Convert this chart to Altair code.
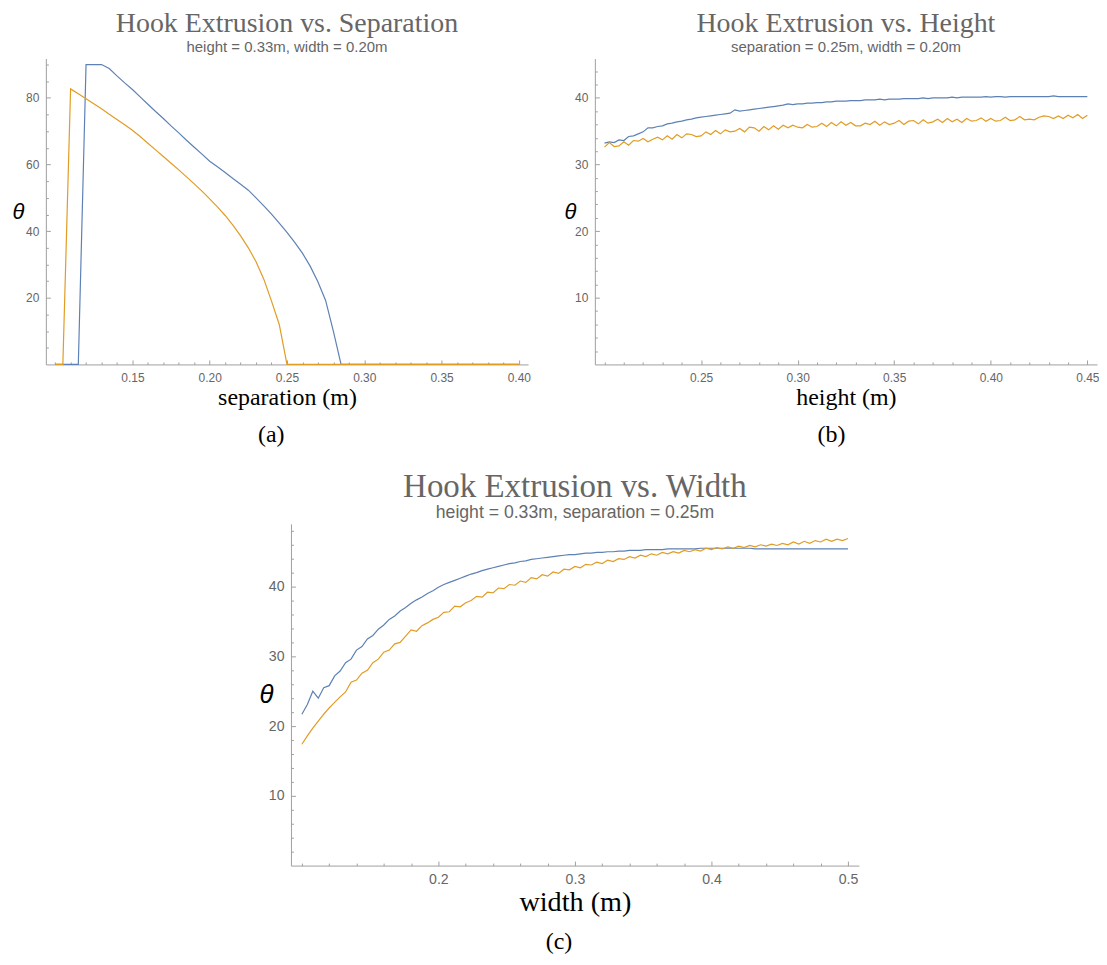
import json
import altair as alt
import pandas as pd

BLUE = "#5E81B5"
ORANGE = "#E19C24"
AXIS_GRAY = "#a0a0a0"
TEXT_GRAY = "#666666"
SERIF = "Liberation Serif"
SANS = "Liberation Sans"

# ---------------- (a) Hook Extrusion vs. Separation ----------------
sep_x = [0.100, 0.105, 0.110, 0.115, 0.120, 0.125, 0.130, 0.135, 0.140, 0.145,
         0.150, 0.155, 0.160, 0.165, 0.170, 0.175, 0.180, 0.185, 0.190, 0.195,
         0.200, 0.205, 0.210, 0.215, 0.220, 0.225, 0.230, 0.235, 0.240, 0.245,
         0.250, 0.255, 0.260, 0.265, 0.270, 0.275, 0.280, 0.285, 0.290, 0.295,
         0.300, 0.305, 0.310, 0.315, 0.320, 0.325, 0.330, 0.335, 0.340, 0.345,
         0.350, 0.355, 0.360, 0.365, 0.370, 0.375, 0.380, 0.385, 0.390, 0.395,
         0.400]
sep_blue = [0, 0, 0, 0, 90.0, 90.0, 90.0, 88.8, 86.6, 84.5,
            82.5, 80.3, 78.1, 75.9, 73.8, 71.6, 69.5, 67.3, 65.2, 63.1,
            61.0, 59.3, 57.6, 55.8, 54.1, 52.3, 50.0, 47.6, 45.1, 42.4,
            39.6, 36.6, 33.4, 29.5, 24.8, 19.2, 10.0, 0, 0, 0,
            0, 0, 0, 0, 0, 0, 0, 0, 0, 0,
            0, 0, 0, 0, 0, 0, 0, 0, 0, 0,
            0]
sep_orange = [0, 0, 82.7, 81.2, 79.7, 78.2, 76.7, 75.1, 73.5, 71.9,
              70.3, 68.4, 66.4, 64.4, 62.4, 60.4, 58.4, 56.3, 54.2, 52.0,
              49.7, 47.3, 44.7, 41.8, 38.6, 35.0, 30.8, 25.6, 19.0, 12.0,
              0, 0, 0, 0, 0, 0, 0, 0, 0, 0,
              0, 0, 0, 0, 0, 0, 0, 0, 0, 0,
              0, 0, 0, 0, 0, 0, 0, 0, 0, 0,
              0]

# ---------------- (b) Hook Extrusion vs. Height ----------------
height_x = [0.2000, 0.2025, 0.2050, 0.2075, 0.2100, 0.2125, 0.2150, 0.2175, 0.2200, 0.2225,
            0.2250, 0.2275, 0.2300, 0.2325, 0.2350, 0.2375, 0.2400, 0.2425, 0.2450, 0.2475,
            0.2500, 0.2525, 0.2550, 0.2575, 0.2600, 0.2625, 0.2650, 0.2675, 0.2700, 0.2725,
            0.2750, 0.2775, 0.2800, 0.2825, 0.2850, 0.2875, 0.2900, 0.2925, 0.2950, 0.2975,
            0.3000, 0.3025, 0.3050, 0.3075, 0.3100, 0.3125, 0.3150, 0.3175, 0.3200, 0.3225,
            0.3250, 0.3275, 0.3300, 0.3325, 0.3350, 0.3375, 0.3400, 0.3425, 0.3450, 0.3475,
            0.3500, 0.3525, 0.3550, 0.3575, 0.3600, 0.3625, 0.3650, 0.3675, 0.3700, 0.3725,
            0.3750, 0.3775, 0.3800, 0.3825, 0.3850, 0.3875, 0.3900, 0.3925, 0.3950, 0.3975,
            0.4000, 0.4025, 0.4050, 0.4075, 0.4100, 0.4125, 0.4150, 0.4175, 0.4200, 0.4225,
            0.4250, 0.4275, 0.4300, 0.4325, 0.4350, 0.4375, 0.4400, 0.4425, 0.4450, 0.4475,
            0.4500]
height_blue = [33.2, 33.4, 33.3, 33.7, 33.6, 34.2, 34.3, 34.6, 34.9, 35.5,
               35.5, 35.7, 35.8, 36.1, 36.2, 36.4, 36.5, 36.7, 36.8, 37.0,
               37.1, 37.2, 37.3, 37.4, 37.5, 37.6, 37.7, 38.2, 38.0, 38.1,
               38.2, 38.3, 38.4, 38.5, 38.6, 38.7, 38.8, 38.9, 39.1, 39.0,
               39.1, 39.1, 39.2, 39.2, 39.3, 39.3, 39.4, 39.4, 39.5, 39.5,
               39.5, 39.6, 39.6, 39.6, 39.7, 39.7, 39.7, 39.8, 39.7, 39.8,
               39.8, 39.8, 39.9, 39.9, 39.9, 39.9, 40.0, 39.9, 40.0, 40.0,
               40.0, 40.0, 40.1, 40.0, 40.1, 40.1, 40.1, 40.1, 40.1, 40.2,
               40.1, 40.2, 40.2, 40.1, 40.2, 40.2, 40.2, 40.2, 40.2, 40.2,
               40.2, 40.2, 40.2, 40.3, 40.2, 40.2, 40.2, 40.2, 40.2, 40.2,
               40.2]
height_orange = [32.6, 33.3, 32.7, 32.8, 33.4, 32.9, 33.6, 33.5, 33.9, 33.4,
                 33.8, 34.1, 33.7, 34.3, 33.8, 34.5, 34.0, 34.6, 34.5, 34.2,
                 34.3, 34.9, 34.5, 35.1, 34.6, 35.2, 34.9, 35.0, 35.4, 34.9,
                 35.6, 35.5, 35.0, 35.7, 35.2, 35.8, 35.3, 35.9, 35.5, 35.9,
                 35.6, 35.5, 36.0, 35.6, 35.7, 36.2, 35.7, 36.3, 35.8, 36.4,
                 35.9, 36.3, 35.8, 35.8, 36.2, 36.0, 36.5, 35.9, 36.4, 36.0,
                 36.2, 36.6, 36.0, 36.5, 36.6, 36.1, 36.7, 36.2, 36.4, 36.8,
                 36.3, 36.9, 36.4, 36.8, 36.3, 36.9, 36.5, 36.6, 37.0, 36.5,
                 36.9, 36.5, 36.6, 37.1, 36.6, 36.7, 37.2, 36.7, 36.8, 36.7,
                 37.1, 37.3, 37.2, 36.9, 37.3, 36.9, 37.4, 37.0, 37.5, 36.9,
                 37.4]

# ---------------- (c) Hook Extrusion vs. Width ----------------
width_x = [0.100, 0.104, 0.108, 0.112, 0.116, 0.120, 0.124, 0.128, 0.132, 0.136,
           0.140, 0.144, 0.148, 0.152, 0.156, 0.160, 0.164, 0.168, 0.172, 0.176,
           0.180, 0.184, 0.188, 0.192, 0.196, 0.200, 0.204, 0.208, 0.212, 0.216,
           0.220, 0.224, 0.228, 0.232, 0.236, 0.240, 0.244, 0.248, 0.252, 0.256,
           0.260, 0.264, 0.268, 0.272, 0.276, 0.280, 0.284, 0.288, 0.292, 0.296,
           0.300, 0.304, 0.308, 0.312, 0.316, 0.320, 0.324, 0.328, 0.332, 0.336,
           0.340, 0.344, 0.348, 0.352, 0.356, 0.360, 0.364, 0.368, 0.372, 0.376,
           0.380, 0.384, 0.388, 0.392, 0.396, 0.400, 0.404, 0.408, 0.412, 0.416,
           0.420, 0.424, 0.428, 0.432, 0.436, 0.440, 0.444, 0.448, 0.452, 0.456,
           0.460, 0.464, 0.468, 0.472, 0.476, 0.480, 0.484, 0.488, 0.492, 0.496,
           0.500]
width_blue = [21.7, 23.1, 25.0, 24.0, 25.5, 25.8, 27.2, 27.9, 29.1, 29.6,
              30.9, 31.4, 32.5, 33.0, 33.9, 34.5, 35.3, 35.8, 36.5, 37.0,
              37.6, 38.1, 38.5, 39.0, 39.4, 39.9, 40.3, 40.6, 40.9, 41.2,
              41.5, 41.8, 42.0, 42.3, 42.5, 42.7, 42.9, 43.1, 43.3, 43.4,
              43.6, 43.7, 43.9, 44.0, 44.1, 44.2, 44.3, 44.4, 44.5, 44.6,
              44.6, 44.7, 44.8, 44.8, 44.9, 44.9, 45.0, 45.0, 45.1, 45.1,
              45.2, 45.2, 45.2, 45.3, 45.3, 45.3, 45.3, 45.4, 45.4, 45.4,
              45.4, 45.4, 45.4, 45.5, 45.5, 45.5, 45.5, 45.5, 45.5, 45.5,
              45.5, 45.5, 45.5, 45.4, 45.4, 45.4, 45.4, 45.4, 45.4, 45.4,
              45.4, 45.4, 45.4, 45.4, 45.4, 45.4, 45.4, 45.4, 45.4, 45.4,
              45.4]
width_orange = [17.4, 18.6, 19.7, 20.7, 21.7, 22.6, 23.4, 24.2, 24.9, 26.3,
                26.6, 27.6, 28.0, 29.1, 29.6, 30.6, 30.9, 31.8, 32.0, 32.9,
                33.8, 33.6, 34.4, 34.8, 35.3, 35.6, 36.3, 36.4, 37.2, 37.1,
                37.7, 38.0, 38.6, 38.5, 39.2, 39.1, 39.8, 39.7, 40.3, 40.2,
                40.8, 40.6, 41.3, 41.1, 41.7, 41.5, 42.1, 41.9, 42.5, 42.4,
                42.9, 42.7, 43.2, 43.1, 43.5, 43.3, 43.8, 43.6, 44.0, 43.9,
                44.3, 44.1, 44.5, 44.3, 44.7, 44.5, 44.9, 44.7, 45.0, 44.8,
                45.2, 45.0, 45.3, 45.1, 45.5, 45.3, 45.6, 45.4, 45.7, 45.5,
                45.8, 45.6, 45.9, 45.7, 46.0, 45.8, 46.1, 45.9, 46.2, 46.0,
                46.4, 46.1, 46.5, 46.2, 46.6, 46.4, 46.8, 46.5, 46.8, 46.6,
                46.9]

# ---------------- tick values ----------------
sep_xmajor = [0.15, 0.2, 0.25, 0.3, 0.35, 0.4]
sep_xticks = [i / 100 for i in range(10, 41)]
sep_ymajor = [20, 40, 60, 80]
sep_yticks = list(range(5, 91, 5))

height_xmajor = [0.25, 0.3, 0.35, 0.4, 0.45]
height_xticks = [i / 100 for i in range(20, 46)]
height_ymajor = [10, 20, 30, 40]
height_yticks = list(range(2, 46, 2))

width_xmajor = [0.2, 0.3, 0.4, 0.5]
width_xticks = [i / 100 for i in range(10, 51, 2)]
width_ymajor = [10, 20, 30, 40]
width_yticks = list(range(2, 49, 2))


def to_df(xs, blue, orange):
    assert len(xs) == len(blue) == len(orange)
    return pd.DataFrame({
        "x": list(xs) + list(xs),
        "theta": list(blue) + list(orange),
        "series": ["blue"] * len(xs) + ["orange"] * len(xs),
    })


def tick_size(major, big, small):
    return {"condition": {"test": "indexof(%s, datum.value) >= 0" % json.dumps(major),
                          "value": big}, "value": small}


def panel(df, xdom, ydom, w, h, xmaj, xall, ymaj, yall, title, subtitle, xtitle,
          letter, s, theta_x, xtitle_y, label_pad, sub_pad, title_offset):
    xs = alt.Scale(domain=xdom, nice=False, zero=False)
    ys = alt.Scale(domain=ydom, nice=False, zero=False)
    color = alt.Color("series:N", scale=alt.Scale(domain=["blue", "orange"], range=[BLUE, ORANGE]),
                      legend=None)
    lines = alt.Chart(df).mark_line(strokeWidth=1.2).encode(
        x=alt.X("x:Q", scale=xs, axis=alt.Axis(
            title=xtitle, values=xmaj, ticks=False, tickSize=0, grid=False,
            domainColor=AXIS_GRAY, domainWidth=1, labelFlush=False,
            labelFont=SANS, labelFontSize=12 * s, labelColor=TEXT_GRAY, labelPadding=label_pad,
            titleFont=SERIF, titleFontSize=24 * s, titleFontWeight="normal", titleColor="black",
            titleY=xtitle_y, titleBaseline="alphabetic")),
        y=alt.Y("theta:Q", scale=ys, axis=alt.Axis(
            title="θ", values=ymaj, ticks=False, tickSize=0, grid=False,
            domainColor=AXIS_GRAY, domainWidth=1,
            labelFont=SANS, labelFontSize=12 * s, labelColor=TEXT_GRAY, labelPadding=7,
            titleFont=SANS, titleFontSize=22 * s, titleFontStyle="italic", titleFontWeight="normal",
            titleColor="black", titleAngle=0, titleX=theta_x, titleY=h / 2,
            titleAlign="center", titleBaseline="middle")),
        color=color,
    )
    ticks = alt.Chart(df).mark_line(opacity=0).encode(
        x=alt.X("x:Q", scale=xs, axis=alt.Axis(
            orient="top", offset=-h, values=xall, labels=False, domain=False, grid=False,
            title="", tickColor=AXIS_GRAY, tickSize=tick_size(xmaj, 4.5, 2.5))),
        y=alt.Y("theta:Q", scale=ys, axis=alt.Axis(
            orient="right", offset=-w, values=yall, labels=False, domain=False, grid=False,
            title="", tickColor=AXIS_GRAY, tickSize=tick_size(ymaj, 4.5, 2.5))),
        detail="series:N",
    )
    layered = alt.layer(lines, ticks).resolve_axis(x="independent", y="independent").properties(
        width=w, height=h,
        title=alt.Title(title, subtitle=subtitle, font=SERIF, fontSize=28 * s, fontWeight="normal",
                        color=TEXT_GRAY, subtitleFont=SANS, subtitleFontSize=15 * s,
                        subtitleColor=TEXT_GRAY, subtitlePadding=sub_pad, anchor="middle",
                        frame="group", offset=title_offset),
    )
    return alt.vconcat(layered, title=alt.Title(
        letter, orient="bottom", font=SERIF, fontSize=24, fontWeight="normal",
        color="black", anchor="middle", offset=14))


pa = panel(to_df(sep_x, sep_blue, sep_orange), [0.094, 0.406], [0, 91.8], 484, 307,
           sep_xmajor, sep_xticks, sep_ymajor, sep_yticks,
           "Hook Extrusion vs. Separation", "height = 0.33m, width = 0.20m",
           "separation (m)", "(a)", 1.0, -28, 40, 8, 2, 4)
pb = panel(to_df(height_x, height_blue, height_orange), [0.195, 0.455], [0, 45.9], 504, 307,
           height_xmajor, height_xticks, height_ymajor, height_yticks,
           "Hook Extrusion vs. Height", "separation = 0.25m, width = 0.20m",
           "height (m)", "(b)", 1.0, -25, 40, 8, 2, 4)
pc = panel(to_df(width_x, width_blue, width_orange), [0.092, 0.508], [0, 49.0], 570, 343,
           width_xmajor, width_xticks, width_ymajor, width_yticks,
           "Hook Extrusion vs. Width", "height = 0.33m, separation = 0.25m",
           "width (m)", "(c)", 1.18, -25, 45, 7, 0, 2)

spacer = alt.Chart(pd.DataFrame({"s": [0]})).mark_point(opacity=0).encode(
    x=alt.value(0), y=alt.value(0)).properties(width=213, height=10)

top = alt.hconcat(pa, pb, spacing=33)
bottom = alt.hconcat(spacer, pc, spacing=0)
chart = alt.vconcat(top, bottom, spacing=24).properties(
    padding={"left": 4, "top": 0, "right": 0, "bottom": 0}
).configure_view(stroke=None)

chart.save("out.html", embed_options={"renderer": "svg", "actions": False})
